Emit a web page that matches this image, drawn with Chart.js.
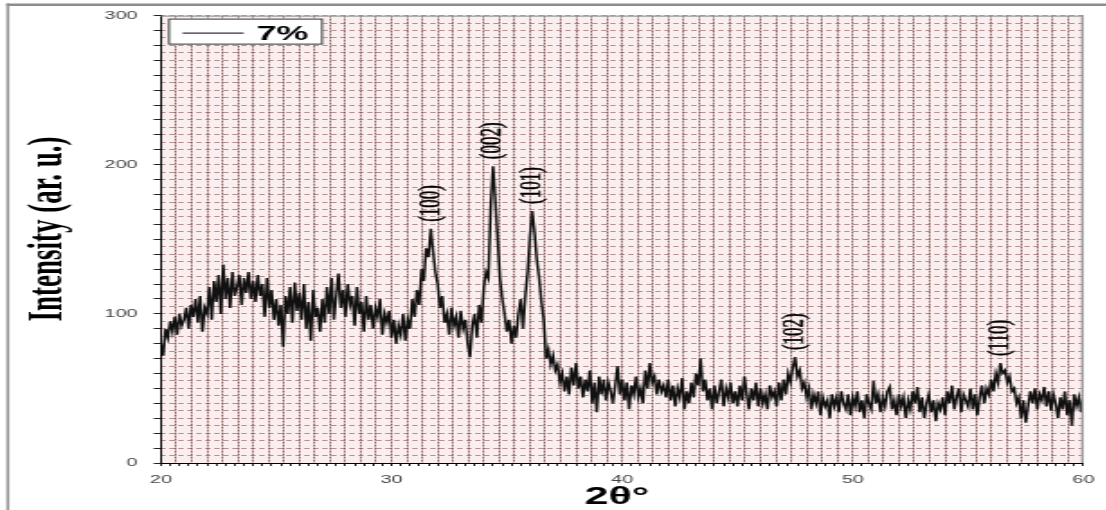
<!DOCTYPE html>
<html lang="en">
<head>
  <meta charset="UTF-8">
  <title>XRD pattern – 7%</title>
  <script src="https://cdn.jsdelivr.net/npm/chart.js"></script>
  <style>
    html, body { margin: 0; padding: 0; background: #fff; overflow: hidden; }
    #wrap { width: 1106px; height: 510px; overflow: hidden; }
    /* the figure is drawn narrow and stretched sideways, like the printed plot */
    #xrd { transform: scaleX(1.8); transform-origin: 0 0; }
  </style>
</head>
<body>
  <div id="wrap"><canvas id="xrd" width="615" height="510"></canvas></div>

  <script>
    // 2θ sampling of the scan
    const startAngle = 20;
    const angleStep = 0.1;

    // measured intensity, one value per 0.1° from 20° to 60°
    const intensity = [
      80, 72, 90, 84, 95, 88, 98, 86, 100, 92,
      96, 104, 90, 106, 98, 110, 94, 112, 88, 104,
      100, 118, 96, 122, 108, 126, 100, 133, 110, 124,
      104, 128, 112, 118, 126, 106, 124, 114, 128, 110,
      122, 108, 126, 112, 120, 98, 124, 104, 116, 96,
      110, 92, 106, 78, 112, 100, 118, 94, 121, 102,
      114, 96, 120, 90, 108, 82, 116, 98, 104, 88,
      110, 94, 118, 100, 124, 96, 112, 127, 104, 116,
      98, 120, 106, 112, 92, 118, 100, 108, 88, 112,
      96, 106, 90, 104, 98, 110, 86, 100, 94, 102,
      84, 96, 80, 92, 86, 100, 82, 96, 90, 110,
      98, 116, 106, 130, 122, 144, 138, 157, 142, 128,
      120, 104, 112, 94, 100, 86, 104, 92, 98, 84,
      102, 90, 96, 80, 71, 92, 100, 84, 106, 94,
      118, 128, 124, 172, 199, 176, 150, 124, 110, 100,
      88, 96, 80, 92, 84, 100, 110, 90, 112, 128,
      152, 169, 155, 136, 124, 108, 96, 70, 76, 66,
      72, 62, 66, 54, 60, 48, 58, 46, 64, 52,
      67, 50, 58, 44, 56, 48, 62, 40, 54, 34,
      58, 46, 56, 42, 54, 48, 40, 52, 65, 46,
      56, 42, 54, 36, 52, 46, 58, 44, 50, 40,
      62, 50, 67, 54, 58, 46, 56, 48, 52, 44,
      56, 42, 52, 38, 50, 44, 57, 36, 48, 40,
      54, 44, 60, 52, 70, 48, 56, 42, 50, 36,
      52, 40, 48, 56, 38, 50, 44, 54, 40, 48,
      38, 52, 42, 58, 46, 36, 50, 42, 54, 38,
      50, 40, 46, 36, 52, 44, 48, 38, 54, 42,
      56, 46, 60, 54, 64, 71, 58, 62, 50, 54,
      44, 50, 36, 46, 40, 48, 32, 44, 38, 42,
      30, 46, 38, 44, 34, 48, 40, 36, 46, 32,
      44, 38, 48, 34, 42, 30, 46, 40, 36, 55,
      40, 46, 34, 44, 38, 48, 51, 36, 42, 32,
      46, 38, 44, 30, 42, 36, 48, 40, 51, 34,
      44, 30, 40, 46, 34, 42, 28, 40, 36, 44,
      32, 48, 40, 52, 36, 44, 50, 34, 46, 42,
      38, 50, 36, 46, 32, 44, 52, 40, 50, 46,
      56, 48, 60, 54, 67, 60, 62, 54, 58, 48,
      50, 40, 44, 30, 42, 27, 38, 48, 40, 50,
      36, 46, 42, 51, 38, 48, 35, 46, 40, 30,
      44, 36, 48, 32, 42, 25, 46, 38, 44, 34,
      46
    ];

    // reflections marked on the pattern
    const peakLabels = ['(100)', '(002)', '(101)', '(102)', '(110)'];
    const peakAngles = [31.7, 34.4, 36.1, 47.5, 56.4];

    const xTickLabels = [20, 30, 40, 50, 60];
    const yTickLabels = [0, 100, 200, 300];
    const seriesName = '7%';

    const points = intensity.map((v, i) => ({ x: startAngle + i * angleStep, y: v }));
    const near = (a, b) => Math.abs(a - b) < 1e-6;

    const paper = {
      id: 'paper',
      beforeDraw(chart) {
        const { ctx, chartArea: a } = chart;
        ctx.save();
        ctx.fillStyle = '#fff';
        ctx.fillRect(0, 0, chart.width, chart.height);
        ctx.fillStyle = '#fbeeee';
        ctx.fillRect(a.left, a.top, a.right - a.left, a.bottom - a.top);
        // outer frame (top and left only)
        ctx.fillStyle = '#8c8c8c';
        ctx.fillRect(3.6, 3.5, chart.width, 2.5);
        ctx.fillRect(3.6, 3.5, 1.5, chart.height);
        ctx.restore();
      },
      afterDraw(chart) {
        const { ctx, chartArea: a, scales } = chart;
        ctx.save();

        // top and right edges of the plot box
        ctx.strokeStyle = '#9a9a9a';
        ctx.lineWidth = 1.4;
        ctx.beginPath();
        ctx.moveTo(a.left, a.top + 0.5);
        ctx.lineTo(a.right - 0.5, a.top + 0.5);
        ctx.lineTo(a.right - 0.5, a.bottom);
        ctx.stroke();

        // legend box
        const lx = a.left + 4, ly = a.top + 3;
        ctx.fillStyle = '#fff';
        ctx.fillRect(lx, ly, 86, 26);
        ctx.strokeStyle = '#333';
        ctx.lineWidth = 1;
        ctx.strokeRect(lx + 0.5, ly + 0.5, 85, 25);
        ctx.strokeStyle = '#000';
        ctx.beginPath();
        ctx.moveTo(lx + 8, ly + 14.5);
        ctx.lineTo(lx + 42, ly + 14.5);
        ctx.stroke();
        ctx.fillStyle = '#000';
        ctx.font = 'bold 20px "Liberation Sans", Arial, sans-serif';
        ctx.textBaseline = 'alphabetic';
        ctx.fillText(chart.data.datasets[0].label, lx + 49, ly + 21.5);

        // Miller indices above each reflection
        ctx.font = '17px "Liberation Serif", "Times New Roman", serif';
        ctx.textAlign = 'left';
        ctx.textBaseline = 'middle';
        ctx.strokeStyle = '#000';
        ctx.lineWidth = 0.4;
        peakLabels.forEach((txt, i) => {
          const idx = Math.round((peakAngles[i] - startAngle) / angleStep);
          const px = scales.x.getPixelForValue(peakAngles[i]);
          const py = scales.y.getPixelForValue(intensity[idx]) - 7;
          ctx.save();
          ctx.translate(px, py);
          ctx.rotate(-Math.PI / 2);
          ctx.fillText(txt, 0, 0);
          ctx.strokeText(txt, 0, 0);
          ctx.restore();
        });

        // axis titles
        ctx.textAlign = 'center';
        ctx.textBaseline = 'middle';
        ctx.font = 'bold 24px "Liberation Sans", Arial, sans-serif';
        ctx.fillText('2θ°', (a.left + a.right) / 2 - 3, 497);

        ctx.save();
        ctx.translate(27, 229);
        ctx.rotate(-Math.PI / 2);
        ctx.font = 'bold 27px "Liberation Serif", "Times New Roman", serif';
        ctx.fillText('Intensity (ar. u.)', 0, 0);
        ctx.restore();

        ctx.restore();
      }
    };

    const tickFont = { family: '"Liberation Sans", Arial, sans-serif', size: 11 };

    new Chart(document.getElementById('xrd'), {
      type: 'line',
      data: {
        datasets: [{
          label: seriesName,
          data: points,
          borderColor: '#111',
          borderWidth: 1.5,
          pointRadius: 0,
          tension: 0,
          fill: false
        }]
      },
      options: {
        responsive: false,
        animation: false,
        events: [],
        layout: { padding: { left: 29.4, top: 14, right: 10, bottom: 17 } },
        plugins: { legend: { display: false }, tooltip: { enabled: false } },
        scales: {
          x: {
            type: 'linear', position: 'bottom', min: 20, max: 60,
            ticks: {
              stepSize: 0.4, autoSkip: false, maxRotation: 0, padding: 7,
              color: '#444', font: tickFont,
              callback: v => xTickLabels.some(t => near(t, v)) ? String(Math.round(v)) : ''
            },
            grid: { drawOnChartArea: false, tickLength: 3, color: '#222' },
            border: { color: '#000', width: 1 },
            afterFit: s => { s.height = 30; }
          },
          xg: {
            type: 'linear', position: 'bottom', min: 20, max: 60,
            ticks: { display: false, stepSize: 2 / 3 },
            grid: { drawTicks: false, color: 'rgba(95,45,45,0.7)', lineWidth: 1 },
            border: { display: false, dash: [2, 1] }
          },
          y: {
            type: 'linear', position: 'left', min: 0, max: 300,
            ticks: {
              stepSize: 10, autoSkip: false, padding: 9,
              color: '#444', font: tickFont,
              callback: v => yTickLabels.some(t => near(t, v)) ? String(Math.round(v)) : ''
            },
            grid: { drawOnChartArea: false, tickLength: 4, color: '#222' },
            border: { color: '#000', width: 1 },
            afterFit: s => { s.width = 60; }
          },
          yg: {
            type: 'linear', position: 'left', min: 0, max: 300,
            ticks: { display: false, stepSize: 5 },
            grid: { drawTicks: false, color: 'rgba(120,70,70,0.55)', lineWidth: 1 },
            border: { display: false, dash: [3, 2] }
          }
        }
      },
      plugins: [paper]
    });
  </script>
</body>
</html>
